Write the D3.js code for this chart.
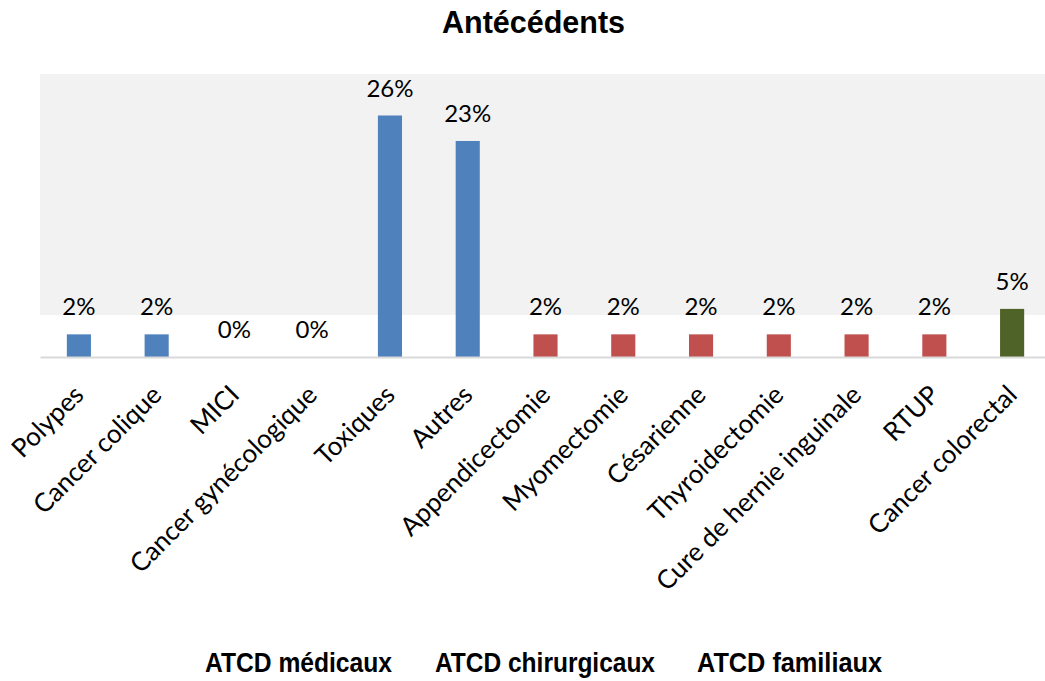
<!DOCTYPE html>
<html>
<head>
<meta charset="utf-8">
<script src="https://cdn.jsdelivr.net/npm/d3@7"></script>
<style>
  body { margin: 0; background: #fff; }
  .title, .legend text { font-family: "Liberation Sans", Arial, sans-serif; font-weight: bold; }
  .lbl, .tick text { font-family: Lato, "Open Sans", sans-serif; }
</style>
</head>
<body>
<div id="chart"></div>
<script>
// data
var categories = ["Polypes", "Cancer colique", "MICI", "Cancer gynécologique", "Toxiques", "Autres",
  "Appendicectomie", "Myomectomie", "Césarienne", "Thyroidectomie", "Cure de hernie inguinale", "RTUP",
  "Cancer colorectal"];
var values = [2.4, 2.4, 0, 0, 25.6, 22.9, 2.4, 2.4, 2.4, 2.4, 2.4, 2.4, 5.1];
var groups = ["ATCD médicaux", "ATCD médicaux", "ATCD médicaux", "ATCD médicaux", "ATCD médicaux", "ATCD médicaux",
  "ATCD chirurgicaux", "ATCD chirurgicaux", "ATCD chirurgicaux", "ATCD chirurgicaux", "ATCD chirurgicaux", "ATCD chirurgicaux",
  "ATCD familiaux"];
var groupNames = ["ATCD médicaux", "ATCD chirurgicaux", "ATCD familiaux"];
var groupColors = ["#4f81bd", "#c0504d", "#4f6228"];

var svgWidth = 1045;
var svgHeight = 681;

var margin = { top: 74, right: -6, bottom: 324, left: 40 };
var width = svgWidth - margin.left - margin.right;
var height = svgHeight - margin.top - margin.bottom;

var svg = d3.select("#chart")
  .append("svg")
  .attr("width", svgWidth)
  .attr("height", svgHeight);

var chartGroup = svg.append("g")
  .attr("transform", `translate(${margin.left}, ${margin.top})`);

var data = categories.map(function(c, i) {
  return { cat: c, value: values[i], group: groups[i] };
});

var xScale = d3.scaleBand()
  .domain(categories)
  .range([0, width])
  .paddingInner(0.69)
  .paddingOuter(0.345);

var yScale = d3.scaleLinear()
  .domain([0, 30])
  .range([height, 0]);

var color = d3.scaleOrdinal()
  .domain(groupNames)
  .range(groupColors);

// plot area background (grey above, white strip near the axis)
chartGroup.append("rect")
  .attr("x", 0)
  .attr("y", 0)
  .attr("width", width)
  .attr("height", height - 42)
  .attr("fill", "#f2f2f2");

// bars
chartGroup.selectAll(".bar")
  .data(data)
  .enter()
  .append("rect")
  .attr("class", "bar")
  .attr("x", d => xScale(d.cat))
  .attr("y", d => yScale(d.value))
  .attr("width", xScale.bandwidth())
  .attr("height", d => height - yScale(d.value))
  .attr("fill", d => color(d.group));

// value labels
var pct = d3.format(".0%");
chartGroup.selectAll(".lbl")
  .data(data)
  .enter()
  .append("text")
  .attr("class", "lbl")
  .attr("x", d => xScale(d.cat) + xScale.bandwidth() / 2)
  .attr("y", d => yScale(d.value) - 19)
  .attr("text-anchor", "middle")
  .attr("font-size", 24)
  .attr("fill", "#000")
  .text(d => pct(d.value / 100));

// x axis
var bottomAxis = d3.axisBottom(xScale).tickSize(0).tickPadding(0);
var xAxis = chartGroup.append("g")
  .attr("transform", `translate(0, ${height})`)
  .call(bottomAxis);

xAxis.select(".domain")
  .attr("stroke", "#d9d9d9")
  .attr("stroke-width", 2);

xAxis.selectAll(".tick text")
  .attr("font-size", 26)
  .attr("fill", "#000")
  .attr("text-anchor", "end")
  .attr("y", 0)
  .attr("dy", "0.35em")
  .attr("transform", "translate(0, 33) rotate(-45)");

// title
svg.append("text")
  .attr("class", "title")
  .attr("x", 442)
  .attr("y", 33)
  .attr("font-size", 32)
  .attr("textLength", 183)
  .attr("lengthAdjust", "spacingAndGlyphs")
  .text("Antécédents");

// legend (text only)
var legendX = [205, 435, 697];
var legendW = [187, 220, 185];
var legend = svg.append("g").attr("class", "legend");
legend.selectAll("text")
  .data(groupNames)
  .enter()
  .append("text")
  .attr("x", (d, i) => legendX[i])
  .attr("y", 672)
  .attr("font-size", 28)
  .attr("textLength", (d, i) => legendW[i])
  .attr("lengthAdjust", "spacingAndGlyphs")
  .attr("fill", "#000")
  .text(d => d);
</script>
</body>
</html>
